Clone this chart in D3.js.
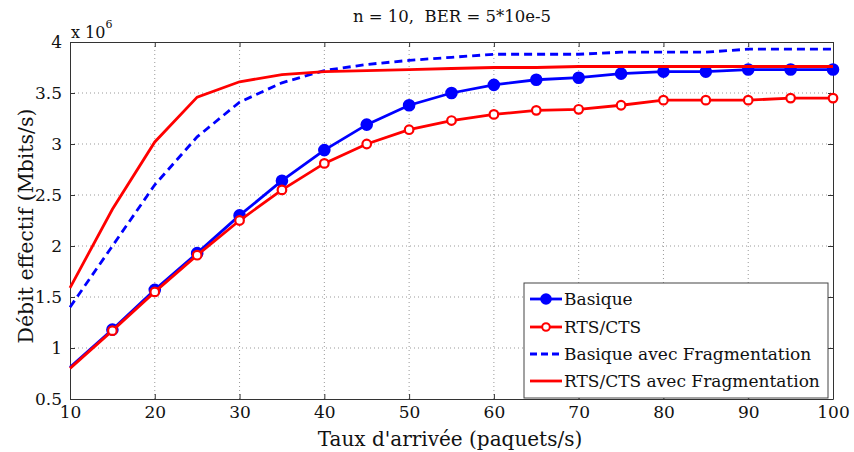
<!DOCTYPE html>
<html>
<head>
<meta charset="utf-8">
<script src="https://cdn.jsdelivr.net/npm/d3@7"></script>
<style>
  body { margin: 0; background: #fff; }
  svg { font-family: "DejaVu Serif", serif; }
</style>
</head>
<body>
<div id="chart"></div>
<script>
// Data (throughput in bits/s, x 10^6)
const rates = [10, 15, 20, 25, 30, 35, 40, 45, 50, 55, 60, 65, 70, 75, 80, 85, 90, 95, 100];
const basique = [0.81, 1.18, 1.57, 1.93, 2.30, 2.64, 2.94, 3.19, 3.38, 3.50, 3.58, 3.63, 3.65, 3.69, 3.71, 3.71, 3.73, 3.73, 3.73];
const rtsCts = [0.80, 1.17, 1.55, 1.91, 2.25, 2.55, 2.81, 3.00, 3.14, 3.23, 3.29, 3.33, 3.34, 3.38, 3.43, 3.43, 3.43, 3.45, 3.45];
const basiqueFrag = [1.40, 2.00, 2.60, 3.07, 3.41, 3.60, 3.72, 3.78, 3.82, 3.85, 3.88, 3.88, 3.88, 3.90, 3.90, 3.90, 3.93, 3.93, 3.93];
const rtsCtsFrag = [1.59, 2.36, 3.02, 3.46, 3.61, 3.68, 3.71, 3.72, 3.73, 3.74, 3.75, 3.75, 3.76, 3.76, 3.76, 3.76, 3.76, 3.76, 3.76];
const xTicks = [10, 20, 30, 40, 50, 60, 70, 80, 90, 100];
const yTicks = [0.5, 1, 1.5, 2, 2.5, 3, 3.5, 4];

const series = [
  {name: "Basique", values: basique, color: "#0000ff", dash: null, marker: "filled"},
  {name: "RTS/CTS", values: rtsCts, color: "#ff0000", dash: null, marker: "open"},
  {name: "Basique avec Fragmentation", values: basiqueFrag, color: "#0000ff", dash: "8,5", marker: null},
  {name: "RTS/CTS avec Fragmentation", values: rtsCtsFrag, color: "#ff0000", dash: null, marker: null}
];

const W = 854, H = 452;
const margin = {top: 42, right: 21, bottom: 53, left: 70};
const width = W - margin.left - margin.right,
      height = H - margin.top - margin.bottom;

const svg = d3.select("#chart").append("svg")
    .attr("width", W)
    .attr("height", H);

const g = svg.append("g")
    .attr("transform", `translate(${margin.left},${margin.top})`);

const x = d3.scaleLinear().domain([10, 100]).range([0, width]);
const y = d3.scaleLinear().domain([0.5, 4]).range([height, 0]);

// dotted grid
g.append("g").selectAll("line")
    .data(xTicks.slice(1, -1))
  .enter().append("line")
    .attr("x1", d => x(d)).attr("x2", d => x(d))
    .attr("y1", 0).attr("y2", height)
    .attr("stroke", "#999").attr("stroke-width", 1)
    .attr("stroke-dasharray", "1,3");

g.append("g").selectAll("line")
    .data(yTicks.slice(1, -1))
  .enter().append("line")
    .attr("x1", 0).attr("x2", width)
    .attr("y1", d => y(d)).attr("y2", d => y(d))
    .attr("stroke", "#999").attr("stroke-width", 1)
    .attr("stroke-dasharray", "1,3");

// axes (ticks inward, matlab style)
g.append("g")
    .attr("transform", `translate(0,${height})`)
    .call(d3.axisBottom(x).tickValues(xTicks).tickSizeInner(-5).tickSizeOuter(0).tickPadding(7));
g.append("g")
    .call(d3.axisLeft(y).tickValues(yTicks).tickFormat(d3.format("")).tickSizeInner(-5).tickSizeOuter(0).tickPadding(8));
g.append("g")
    .call(d3.axisTop(x).tickValues(xTicks).tickSizeInner(-5).tickSizeOuter(0).tickFormat(""));
g.append("g")
    .attr("transform", `translate(${width},0)`)
    .call(d3.axisRight(y).tickValues(yTicks).tickSizeInner(-5).tickSizeOuter(0).tickFormat(""));

g.selectAll(".domain, .tick line").attr("stroke", "#333");
g.selectAll(".tick text")
    .attr("font-family", "DejaVu Serif, serif")
    .attr("font-size", 17)
    .attr("fill", "#111");

// lines
const line = d3.line()
    .x((d, i) => x(rates[i]))
    .y(d => y(d));

series.forEach(s => {
  g.append("path")
      .datum(s.values)
      .attr("fill", "none")
      .attr("stroke", s.color)
      .attr("stroke-width", 2.8)
      .attr("stroke-dasharray", s.dash)
      .attr("d", line);

  if (s.marker) {
    g.append("g").selectAll("circle")
        .data(s.values.slice(1))
      .enter().append("circle")
        .attr("cx", (d, i) => x(rates[i + 1]))
        .attr("cy", d => y(d))
        .attr("r", s.marker === "filled" ? 5.2 : 4.3)
        .attr("fill", s.marker === "filled" ? s.color : "#fff")
        .attr("stroke", s.color)
        .attr("stroke-width", 2.2);
  }
});

// title and labels
svg.append("text")
    .attr("x", 452).attr("y", 22)
    .attr("text-anchor", "middle")
    .attr("font-size", 16.5)
    .attr("fill", "#111")
    .style("white-space", "pre")
    .text("n = 10,  BER = 5*10e-5");

const expo = svg.append("text")
    .attr("x", 71).attr("y", 38)
    .attr("font-size", 16)
    .attr("fill", "#111");
expo.append("tspan").text("x 10");
expo.append("tspan").attr("dy", -10).attr("font-size", 11).text("6");

svg.append("text")
    .attr("x", 450).attr("y", 446)
    .attr("text-anchor", "middle")
    .attr("font-size", 20)
    .attr("fill", "#111")
    .text("Taux d'arrivée (paquets/s)");

svg.append("text")
    .attr("transform", "translate(33,226) rotate(-90)")
    .attr("text-anchor", "middle")
    .attr("font-size", 20.5)
    .attr("fill", "#111")
    .text("Débit effectif (Mbits/s)");

// legend
const legend = svg.append("g").attr("transform", "translate(524,283)");
legend.append("rect")
    .attr("width", 304).attr("height", 115)
    .attr("fill", "#fff")
    .attr("stroke", "#444").attr("stroke-width", 1);

const rowY = [16, 44, 71, 98];
series.forEach((s, i) => {
  const row = legend.append("g").attr("transform", `translate(0,${rowY[i]})`);
  row.append("line")
      .attr("x1", 6).attr("x2", 38)
      .attr("stroke", s.color).attr("stroke-width", 2.8)
      .attr("stroke-dasharray", s.dash ? "7,4" : null);
  if (s.marker) {
    row.append("circle")
        .attr("cx", 22).attr("r", s.marker === "filled" ? 4.8 : 3.8)
        .attr("fill", s.marker === "filled" ? s.color : "#fff")
        .attr("stroke", s.color).attr("stroke-width", 2);
  }
  row.append("text")
      .attr("x", 40).attr("dy", "0.35em")
      .attr("font-size", 17)
      .attr("fill", "#111")
      .text(s.name);
});
</script>
</body>
</html>
